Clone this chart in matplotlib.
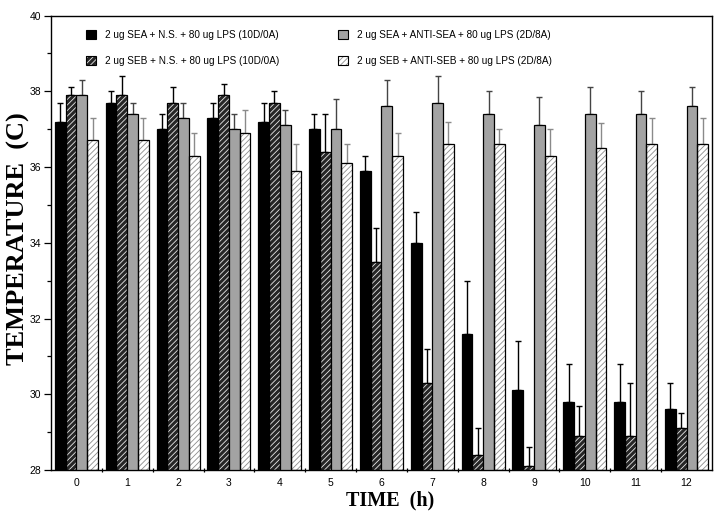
"""Body temperature over time, grouped bars with error bars (4 treatments)."""

import matplotlib
matplotlib.use("Agg")
import matplotlib.pyplot as plt
from matplotlib.patches import Patch
import numpy as np

# Data
hours = list(range(13))
labels = [
    "2 ug SEA + N.S. + 80 ug LPS (10D/0A)",
    "2 ug SEB + N.S. + 80 ug LPS (10D/0A)",
    "2 ug SEA + ANTI-SEA + 80 ug LPS (2D/8A)",
    "2 ug SEB + ANTI-SEB + 80 ug LPS (2D/8A)",
]
sea_ns = [37.2, 37.7, 37.0, 37.3, 37.2, 37.0, 35.9, 34.0, 31.6, 30.1, 29.8, 29.8, 29.6]
sea_ns_err = [0.5, 0.3, 0.4, 0.4, 0.5, 0.4, 0.4, 0.8, 1.4, 1.3, 1.0, 1.0, 0.7]
seb_ns = [37.9, 37.9, 37.7, 37.9, 37.7, 36.4, 33.5, 30.3, 28.4, 28.1, 28.9, 28.9, 29.1]
seb_ns_err = [0.2, 0.5, 0.4, 0.3, 0.3, 1.0, 0.9, 0.9, 0.7, 0.5, 0.8, 1.4, 0.4]
sea_anti = [37.9, 37.4, 37.3, 37.0, 37.1, 37.0, 37.6, 37.7, 37.4, 37.1, 37.4, 37.4, 37.6]
sea_anti_err = [0.4, 0.3, 0.4, 0.4, 0.4, 0.8, 0.7, 0.7, 0.6, 0.75, 0.7, 0.6, 0.5]
seb_anti = [36.7, 36.7, 36.3, 36.9, 35.9, 36.1, 36.3, 36.6, 36.6, 36.3, 36.5, 36.6, 36.6]
seb_anti_err = [0.6, 0.6, 0.6, 0.6, 0.7, 0.5, 0.6, 0.6, 0.4, 0.7, 0.65, 0.7, 0.7]

# (face, hatch, hatch colour, error bar colour)
STYLES = [
    ("#000000", None, None, "#000000"),
    ("#262626", "//////", "#e8e8e8", "#000000"),
    ("#a3a3a3", None, None, "#444444"),
    ("#ffffff", "//////", "#8c8c8c", "#8a8a8a"),
]

plt.rcParams["font.family"] = ["Liberation Sans", "DejaVu Sans"]
plt.rcParams["hatch.linewidth"] = 0.6

fig = plt.figure(figsize=(7.21, 5.17), dpi=100)
ax = fig.add_axes([0.0707, 0.0909, 0.9168, 0.8791])

series = [(sea_ns, sea_ns_err), (seb_ns, seb_ns_err),
          (sea_anti, sea_anti_err), (seb_anti, seb_anti_err)]
x = np.array(hours, dtype=float)
largeur = 0.212
handles = []
for i, ((vals, errs), (face, hatch, hcol, ecol)) in enumerate(zip(series, STYLES)):
    pos = x + (i - 1.5) * largeur
    base = 28
    heights = np.array(vals) - base
    if hatch:
        # hachures dans leur propre couleur, puis contour noir par-dessus
        ax.bar(pos, heights, largeur, bottom=base, color=face, hatch=hatch,
               edgecolor=hcol, linewidth=0, zorder=2)
        ax.bar(pos, heights, largeur, bottom=base, fill=False,
               edgecolor="black", linewidth=0.9, zorder=3)
        handles.append((Patch(facecolor=face, hatch=hatch, edgecolor=hcol, linewidth=0),
                        Patch(fill=False, edgecolor="black", linewidth=0.8)))
    else:
        ax.bar(pos, heights, largeur, bottom=base, color=face,
               edgecolor="black", linewidth=0.9, zorder=3)
        handles.append(Patch(facecolor=face, edgecolor="black", linewidth=0.8))
    ax.errorbar(pos, vals, yerr=[np.zeros(len(errs)), errs], fmt="none",
                ecolor=ecol, elinewidth=1.0, capsize=2.2, capthick=1.0, zorder=1)

ax.set_xlim(-0.5, 12.5)
ax.set_ylim(28, 40)
ax.set_yticks(range(28, 41, 2))
ax.set_yticks(range(29, 40, 2), minor=True)
ax.set_xticks(hours)
ax.set_xticks(np.arange(0.5, 12.5, 1.0), minor=True)
ax.tick_params(axis="x", which="major", length=0, pad=6, labelsize=7.5)
ax.tick_params(axis="x", which="minor", length=3, direction="inout", width=0.9)
ax.tick_params(axis="y", which="major", length=5, width=0.9, labelsize=7.5, pad=2)
ax.tick_params(axis="y", which="minor", length=3, width=0.9)
for spine in ax.spines.values():
    spine.set_linewidth(1.0)

ax.set_xlabel("TIME  (h)", family="Liberation Serif", fontweight="bold", fontsize=14.5)
ax.set_ylabel("TEMPERATURE  (C)", family="Liberation Serif", fontweight="bold", fontsize=19)
ax.xaxis.set_label_coords(0.513, -0.045)
ax.yaxis.set_label_coords(-0.032, 0.51)

ax.legend(handles, labels, ncol=2, loc="upper left", bbox_to_anchor=(0.046, 0.979),
          frameon=False, fontsize=7.2, handlelength=0.95, handleheight=0.95,
          handletextpad=0.9, labelspacing=1.6, columnspacing=5.9, borderpad=0)

fig.savefig("out.png", dpi=100)
